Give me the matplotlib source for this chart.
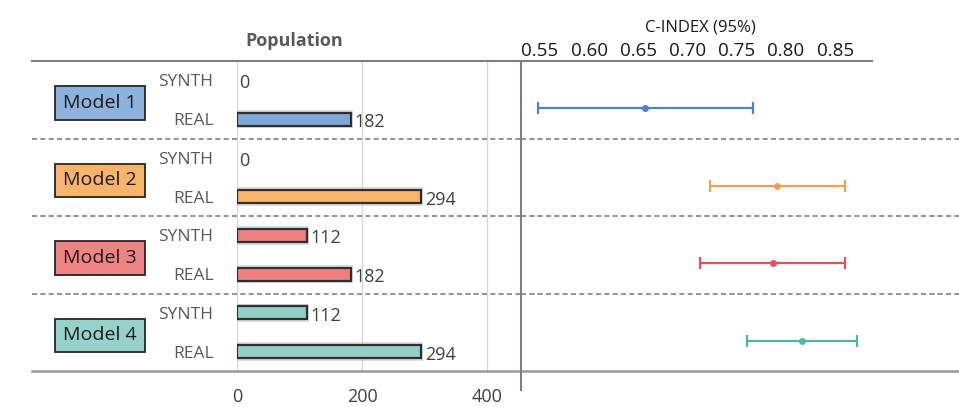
import matplotlib.pyplot as plt
import matplotlib.transforms as mtransforms
from matplotlib.lines import Line2D

plt.rcParams['font.family'] = ['Open Sans', 'DejaVu Sans']

# --- data ---
models = ['Model 1', 'Model 2', 'Model 3', 'Model 4']
row_labels = ['SYNTH', 'REAL']
synth_n = [0, 0, 112, 112]
real_n = [182, 294, 182, 294]
c_index = [0.657, 0.791, 0.787, 0.816]
ci_low = [0.548, 0.723, 0.713, 0.760]
ci_high = [0.767, 0.860, 0.860, 0.872]
pop_ticks = [0, 200, 400]
c_ticks = [0.55, 0.60, 0.65, 0.70, 0.75, 0.80, 0.85]

box_colors = ['#8eb2de', '#f9b46c', '#f08383', '#96d2c9']
bar_colors = ['#7fa7d9', '#f9b36b', '#ef8080', '#94d0c7']
ci_colors = ['#4f83c6', '#f5a04a', '#e5505b', '#52b5a4']
text_gray = '#404040'

W, H = 959, 407
fig = plt.figure(figsize=(W / 100, H / 100), dpi=100)

def fx(px):
    return px / W

def fy(py):
    return 1 - py / H

top_px, bot_px = 61, 371
ax = fig.add_axes([fx(237), fy(bot_px), fx(521 - 237), fy(top_px) - fy(bot_px)])
ax2 = fig.add_axes([fx(521), fy(bot_px), fx(W - 521), fy(top_px) - fy(bot_px)])

# row positions: synth = 2i, real = 2i+1 (top to bottom)
ys_synth = [2 * i for i in range(len(models))]
ys_real = [2 * i + 1 for i in range(len(models))]

for a in (ax, ax2):
    a.set_ylim(7.5, -0.5)
    for s in a.spines.values():
        s.set_visible(False)

# --- population bars ---
ax.set_xlim(0, 454)
bh = 0.34
for i in range(len(models)):
    for y, v in ((ys_synth[i], synth_n[i]), (ys_real[i], real_n[i])):
        if v > 0:
            # soft shadow
            ax.barh(y, v + 4, height=bh + 0.14, left=-1, color='#bdbdbd', alpha=0.5, zorder=2)
            ax.barh(y, v, height=bh, color=bar_colors[i], edgecolor='#2f2f2f',
                    linewidth=1.6, zorder=3)
        ax.text(v + 6 if v > 0 else 4, y + 0.08, str(v), fontsize=13, color=text_gray,
                va='center', ha='left', zorder=4)

ax.set_xticks(pop_ticks)
ax.set_xticklabels([str(t) for t in pop_ticks], fontsize=13, color=text_gray)
ax.tick_params(axis='x', length=0, pad=12)
ax.grid(axis='x', color='#d9d9d9', linewidth=1)
ax.set_axisbelow(True)
ax.set_yticks(ys_synth + ys_real)
ax.set_yticklabels([row_labels[0]] * 4 + [row_labels[1]] * 4, fontsize=12.5, color='#595959')
ax.tick_params(axis='y', length=0, pad=17)

ax.text(0.2, 1.035, 'Population', transform=ax.transAxes, fontsize=13,
        fontweight='bold', color='#595959', ha='center', va='bottom')

# model name boxes
trans = mtransforms.blended_transform_factory(fig.transFigure, ax.transData)
for i, m in enumerate(models):
    ax.text(fx(100), 2 * i + 0.58, m, transform=trans, fontsize=14, color='#1a1a1a',
            ha='center', va='center',
            bbox=dict(boxstyle='square,pad=0.4', facecolor=box_colors[i],
                      edgecolor='#262626', linewidth=1.3))

# --- C-index panel ---
ax2.set_xlim(0.5307, 0.976)
for i in range(len(models)):
    y = 2 * i + 0.72
    ax2.errorbar(c_index[i], y,
                 xerr=[[c_index[i] - ci_low[i]], [ci_high[i] - c_index[i]]],
                 fmt='o', color=ci_colors[i], markersize=4, elinewidth=1.6,
                 capsize=4, capthick=1.6, zorder=3)
ax2.xaxis.tick_top()
ax2.set_xticks(c_ticks)
ax2.set_xticklabels(['%.2f' % t for t in c_ticks], fontsize=13.5, color='#1a1a1a')
ax2.tick_params(axis='x', length=0, pad=1)
ax2.set_yticks([])
ax2.text(fx(700), fy(27), 'C-INDEX (95%)', transform=fig.transFigure, fontsize=12,
         color='#1a1a1a', ha='center', va='center')

# --- separators and frame lines ---
for y in (1.5, 3.5, 5.5):
    ax.axhline(y, xmin=(32 - 237) / (521 - 237), xmax=1, color='#808080',
               linestyle=(0, (3, 2)), linewidth=1.2, clip_on=False, zorder=1)
    ax2.axhline(y, color='#808080', linestyle=(0, (3, 2)), linewidth=1.2, zorder=1)

fig.add_artist(Line2D([fx(32), fx(872)], [fy(top_px), fy(top_px)], color='#7f7f7f', linewidth=1.5))
fig.add_artist(Line2D([fx(32), fx(W)], [fy(bot_px), fy(bot_px)], color='#9a9a9a', linewidth=1.8))
fig.add_artist(Line2D([fx(521), fx(521)], [fy(top_px), fy(390)], color='#7f7f7f', linewidth=1.5))

fig.savefig('out.png', dpi=100)
